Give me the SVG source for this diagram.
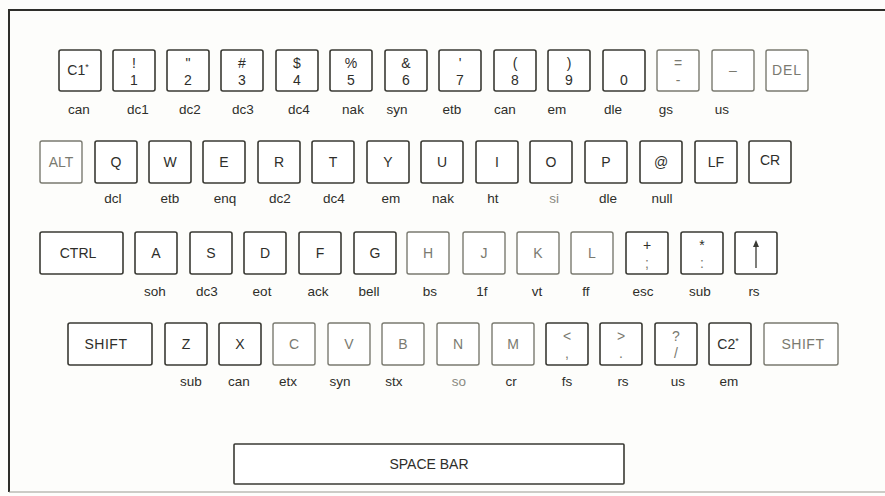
<svg xmlns="http://www.w3.org/2000/svg" width="885" height="496" viewBox="0 0 885 496">
<style>
.k{fill:#fff;stroke:#3a3a34;stroke-width:1.6}
.kf{fill:#fff;stroke:#7a7a70;stroke-width:1.4}
.t{font-family:"Liberation Sans",Arial,sans-serif;font-size:14px;fill:#2e2e2a;text-anchor:middle}
.tf{fill:#7a7a70}
.s{font-family:"Liberation Sans",Arial,sans-serif;font-size:13.5px;fill:#2e2e2a;text-anchor:middle}
.sf{fill:#8a8a82}
.fr{stroke:#2e2e2a;stroke-width:2;fill:none}
</style>
<rect width="885" height="496" fill="#fdfdfb"/>
<g id="frame">
<path class="fr" d="M9,492 V10 H885"/>
<path d="M9,492 H885" stroke="#9a9a92" stroke-width="1.2" fill="none"/>
</g>
<g id="row1">
<g id="k-c1"><rect class="k" x="59" y="50" width="42" height="41" rx="2"/><text class="t" x="78" y="75">C1<tspan font-size="9" dy="-5">*</tspan></text><text class="s" x="79" y="114">can</text></g>
<g id="k-1"><rect class="k" x="113" y="50" width="42" height="41" rx="2"/><text class="t" x="134" y="68">!</text><text class="t" x="134" y="85">1</text><text class="s" x="138" y="114">dc1</text></g>
<g id="k-2"><rect class="k" x="167" y="50" width="42" height="41" rx="2"/><text class="t" x="188" y="68">"</text><text class="t" x="188" y="85">2</text><text class="s" x="190" y="114">dc2</text></g>
<g id="k-3"><rect class="k" x="221" y="50" width="42" height="41" rx="2"/><text class="t" x="242" y="68">#</text><text class="t" x="242" y="85">3</text><text class="s" x="243" y="114">dc3</text></g>
<g id="k-4"><rect class="k" x="276" y="50" width="42" height="41" rx="2"/><text class="t" x="297" y="68">$</text><text class="t" x="297" y="85">4</text><text class="s" x="299" y="114">dc4</text></g>
<g id="k-5"><rect class="k" x="330" y="50" width="42" height="41" rx="2"/><text class="t" x="351" y="68">%</text><text class="t" x="351" y="85">5</text><text class="s" x="353" y="114">nak</text></g>
<g id="k-6"><rect class="k" x="385" y="50" width="42" height="41" rx="2"/><text class="t" x="406" y="68">&amp;</text><text class="t" x="406" y="85">6</text><text class="s" x="397" y="114">syn</text></g>
<g id="k-7"><rect class="k" x="439" y="50" width="42" height="41" rx="2"/><text class="t" x="460" y="68">'</text><text class="t" x="460" y="85">7</text><text class="s" x="452" y="114">etb</text></g>
<g id="k-8"><rect class="k" x="494" y="50" width="42" height="41" rx="2"/><text class="t" x="515" y="68">(</text><text class="t" x="515" y="85">8</text><text class="s" x="505" y="114">can</text></g>
<g id="k-9"><rect class="k" x="548" y="50" width="42" height="41" rx="2"/><text class="t" x="569" y="68">)</text><text class="t" x="569" y="85">9</text><text class="s" x="557" y="114">em</text></g>
<g id="k-0"><rect class="k" x="603" y="50" width="42" height="41" rx="2"/><text class="t" x="624" y="85">0</text><text class="s" x="613" y="114">dle</text></g>
<g id="k-eq"><rect class="kf" x="657" y="50" width="42" height="41" rx="2"/><text class="t tf" x="678" y="68">=</text><text class="t tf" x="678" y="85">-</text><text class="s" x="666" y="114">gs</text></g>
<g id="k-us"><rect class="kf" x="712" y="50" width="42" height="41" rx="2"/><text class="t tf" x="733" y="75">–</text><text class="s" x="722" y="114">us</text></g>
<g id="k-del"><rect class="kf" x="766" y="50" width="42" height="41" rx="2"/><text class="t tf" x="787" y="75" letter-spacing="1">DEL</text></g>
</g>
<g id="row2">
<g id="k-alt"><rect class="kf" x="40" y="141" width="42" height="42" rx="2" stroke="#6e6a55"/><text class="t tf" x="61" y="167">ALT</text></g>
<g id="k-q"><rect class="k" x="95" y="141" width="42" height="42" rx="2"/><text class="t" x="116" y="167">Q</text><text class="s" x="113" y="203">dcl</text></g>
<g id="k-w"><rect class="k" x="149" y="141" width="42" height="42" rx="2"/><text class="t" x="170" y="167">W</text><text class="s" x="170" y="203">etb</text></g>
<g id="k-e"><rect class="k" x="203" y="141" width="42" height="42" rx="2"/><text class="t" x="224" y="167">E</text><text class="s" x="225" y="203">enq</text></g>
<g id="k-r"><rect class="k" x="258" y="141" width="42" height="42" rx="2"/><text class="t" x="279" y="167">R</text><text class="s" x="280" y="203">dc2</text></g>
<g id="k-t"><rect class="k" x="312" y="141" width="42" height="42" rx="2"/><text class="t" x="333" y="167">T</text><text class="s" x="334" y="203">dc4</text></g>
<g id="k-y"><rect class="k" x="367" y="141" width="42" height="42" rx="2"/><text class="t" x="388" y="167">Y</text><text class="s" x="391" y="203">em</text></g>
<g id="k-u"><rect class="k" x="421" y="141" width="42" height="42" rx="2"/><text class="t" x="442" y="167">U</text><text class="s" x="443" y="203">nak</text></g>
<g id="k-i"><rect class="k" x="476" y="141" width="42" height="42" rx="2"/><text class="t" x="497" y="167">I</text><text class="s" x="493" y="203">ht</text></g>
<g id="k-o"><rect class="k" x="530" y="141" width="42" height="42" rx="2"/><text class="t" x="551" y="167">O</text><text class="s sf" x="554" y="203">si</text></g>
<g id="k-p"><rect class="k" x="585" y="141" width="42" height="42" rx="2"/><text class="t" x="606" y="167">P</text><text class="s" x="608" y="203">dle</text></g>
<g id="k-at"><rect class="k" x="640" y="141" width="42" height="42" rx="2"/><text class="t" x="661" y="167">@</text><text class="s" x="662" y="203">null</text></g>
<g id="k-lf"><rect class="k" x="695" y="141" width="42" height="42" rx="2"/><text class="t" x="716" y="167">LF</text></g>
<g id="k-cr"><rect class="k" x="749" y="141" width="42" height="42" rx="2"/><text class="t" x="770" y="165">CR</text></g>
</g>
<g id="row3">
<g id="k-ctrl"><rect class="k" x="40" y="232" width="83" height="42" rx="2"/><text class="t" x="78" y="258">CTRL</text></g>
<g id="k-a"><rect class="k" x="135" y="232" width="42" height="42" rx="2"/><text class="t" x="156" y="258">A</text><text class="s" x="155" y="296">soh</text></g>
<g id="k-s"><rect class="k" x="190" y="232" width="42" height="42" rx="2"/><text class="t" x="211" y="258">S</text><text class="s" x="207" y="296">dc3</text></g>
<g id="k-d"><rect class="k" x="244" y="232" width="42" height="42" rx="2"/><text class="t" x="265" y="258">D</text><text class="s" x="262" y="296">eot</text></g>
<g id="k-f"><rect class="k" x="299" y="232" width="42" height="42" rx="2"/><text class="t" x="320" y="258">F</text><text class="s" x="318" y="296">ack</text></g>
<g id="k-g"><rect class="k" x="354" y="232" width="42" height="42" rx="2"/><text class="t" x="375" y="258">G</text><text class="s" x="369" y="296">bell</text></g>
<g id="k-h"><rect class="kf" x="407" y="232" width="42" height="42" rx="2"/><text class="t tf" x="428" y="258">H</text><text class="s" x="430" y="296">bs</text></g>
<g id="k-j"><rect class="kf" x="463" y="232" width="42" height="42" rx="2"/><text class="t tf" x="484" y="258">J</text><text class="s" x="482" y="296">1f</text></g>
<g id="k-k"><rect class="kf" x="517" y="232" width="42" height="42" rx="2"/><text class="t tf" x="538" y="258">K</text><text class="s" x="537" y="296">vt</text></g>
<g id="k-l"><rect class="kf" x="571" y="232" width="42" height="42" rx="2"/><text class="t tf" x="592" y="258">L</text><text class="s" x="586" y="296">ff</text></g>
<g id="k-plus"><rect class="k" x="626" y="232" width="42" height="42" rx="2"/><text class="t" x="647" y="250">+</text><text class="t tf" x="647" y="268">;</text><text class="s" x="643" y="296">esc</text></g>
<g id="k-star"><rect class="k" x="681" y="232" width="42" height="42" rx="2"/><text class="t" x="702" y="250">*</text><text class="t tf" x="702" y="268">:</text><text class="s" x="700" y="296">sub</text></g>
<g id="k-up"><rect class="k" x="735" y="232" width="42" height="42" rx="2"/><path d="M756,268 V243" stroke="#3a3a34" stroke-width="1.3" fill="none"/><path d="M753,247 L756,240 L759,247 Z" fill="#3a3a34"/><text class="s" x="754" y="296">rs</text></g>
</g>
<g id="row4">
<g id="k-shiftl"><rect class="k" x="68" y="323" width="84" height="42" rx="2"/><text class="t" x="106" y="349" letter-spacing="0.5">SHIFT</text></g>
<g id="k-z"><rect class="k" x="165" y="323" width="42" height="42" rx="2"/><text class="t" x="186" y="349">Z</text><text class="s" x="191" y="386">sub</text></g>
<g id="k-x"><rect class="k" x="219" y="323" width="42" height="42" rx="2"/><text class="t" x="240" y="349">X</text><text class="s" x="239" y="386">can</text></g>
<g id="k-c"><rect class="kf" x="273" y="323" width="42" height="42" rx="2"/><text class="t tf" x="294" y="349">C</text><text class="s" x="288" y="386">etx</text></g>
<g id="k-v"><rect class="kf" x="328" y="323" width="42" height="42" rx="2"/><text class="t tf" x="349" y="349">V</text><text class="s" x="340" y="386">syn</text></g>
<g id="k-b"><rect class="kf" x="382" y="323" width="42" height="42" rx="2"/><text class="t tf" x="403" y="349">B</text><text class="s" x="394" y="386">stx</text></g>
<g id="k-n"><rect class="kf" x="437" y="323" width="42" height="42" rx="2"/><text class="t tf" x="458" y="349">N</text><text class="s sf" x="459" y="386">so</text></g>
<g id="k-m"><rect class="kf" x="492" y="323" width="42" height="42" rx="2"/><text class="t tf" x="513" y="349">M</text><text class="s" x="511" y="386">cr</text></g>
<g id="k-lt"><rect class="k" x="546" y="323" width="42" height="42" rx="2"/><text class="t tf" x="567" y="341">&lt;</text><text class="t tf" x="567" y="358">,</text><text class="s" x="567" y="386">fs</text></g>
<g id="k-gt"><rect class="k" x="600" y="323" width="42" height="42" rx="2"/><text class="t tf" x="621" y="341">&gt;</text><text class="t tf" x="621" y="358">.</text><text class="s" x="623" y="386">rs</text></g>
<g id="k-q2"><rect class="k" x="655" y="323" width="42" height="42" rx="2"/><text class="t tf" x="676" y="341">?</text><text class="t tf" x="676" y="358">/</text><text class="s" x="678" y="386">us</text></g>
<g id="k-c2"><rect class="k" x="709" y="323" width="42" height="42" rx="2"/><text class="t" x="728" y="349">C2<tspan font-size="9" dy="-5">*</tspan></text><text class="s" x="729" y="386">em</text></g>
<g id="k-shiftr"><rect class="kf" x="764" y="323" width="74" height="42" rx="2"/><text class="t tf" x="803" y="349" letter-spacing="0.5">SHIFT</text></g>
</g>
<g id="row5">
<g id="k-space"><rect class="k" x="234" y="444" width="390" height="40" rx="1"/><text class="t" x="429" y="469">SPACE BAR</text></g>
</g>
<g id="connectors"/>
</svg>
